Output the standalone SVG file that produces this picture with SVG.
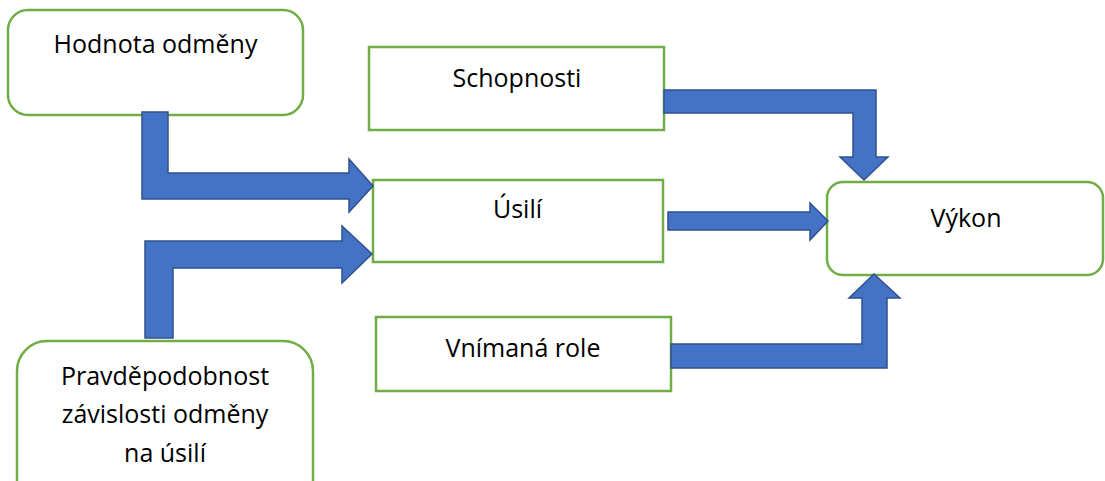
<svg xmlns="http://www.w3.org/2000/svg" width="1105" height="481" viewBox="0 0 1105 481">
<style>
.box{fill:#ffffff;stroke:#70AD47;stroke-width:2.5}
.arr{fill:#4472C4;stroke:#2F528F;stroke-width:1.5;stroke-linejoin:miter}
.t{font-family:"Open Sans","Noto Sans","Liberation Sans",sans-serif;font-size:25px;fill:#000000;text-anchor:middle}
</style>
<rect width="1105" height="481" fill="#ffffff"/>
<g id="hodnota">
<rect class="box" x="8" y="10" width="295" height="105" rx="20"/>
<text class="t" x="155.5" y="53">Hodnota odměny</text>
</g>
<g id="schopnosti">
<rect class="box" x="369" y="47" width="295" height="83"/>
<text class="t" x="517" y="87">Schopnosti</text>
</g>
<g id="usili">
<rect class="box" x="373" y="180" width="290" height="82"/>
<text class="t" x="517.5" y="218">Úsilí</text>
</g>
<g id="vnimana">
<rect class="box" x="376" y="317" width="295" height="74"/>
<text class="t" x="523" y="357">Vnímaná role</text>
</g>
<g id="vykon">
<rect class="box" x="827" y="182" width="276" height="93" rx="16"/>
<text class="t" x="966" y="227">Výkon</text>
</g>
<g id="pravdepodobnost">
<rect class="box" x="17" y="341" width="296" height="170" rx="30"/>
<text class="t" x="165" y="385">Pravděpodobnost</text>
<text class="t" x="165" y="423">závislosti odměny</text>
<text class="t" x="165" y="462">na úsilí</text>
</g>
<g id="connectors">
<polygon class="arr" points="142,112 168,112 168,173 349,173 349,159 373,186 349,212 349,199 142,199"/>
<polygon class="arr" points="145,338 145,241 342,241 342,226 372,254 342,283 342,268 173,268 173,338"/>
<polygon class="arr" points="664,90 876,90 876,157 888,157 864,180 840,157 853,157 853,113 664,113"/>
<polygon class="arr" points="668,212 810,212 810,203 828,221 810,240 810,230 668,230"/>
<polygon class="arr" points="671,344 862,344 862,298 849,298 874,274 900,298 887,298 887,368 671,368"/>
</g>
</svg>
